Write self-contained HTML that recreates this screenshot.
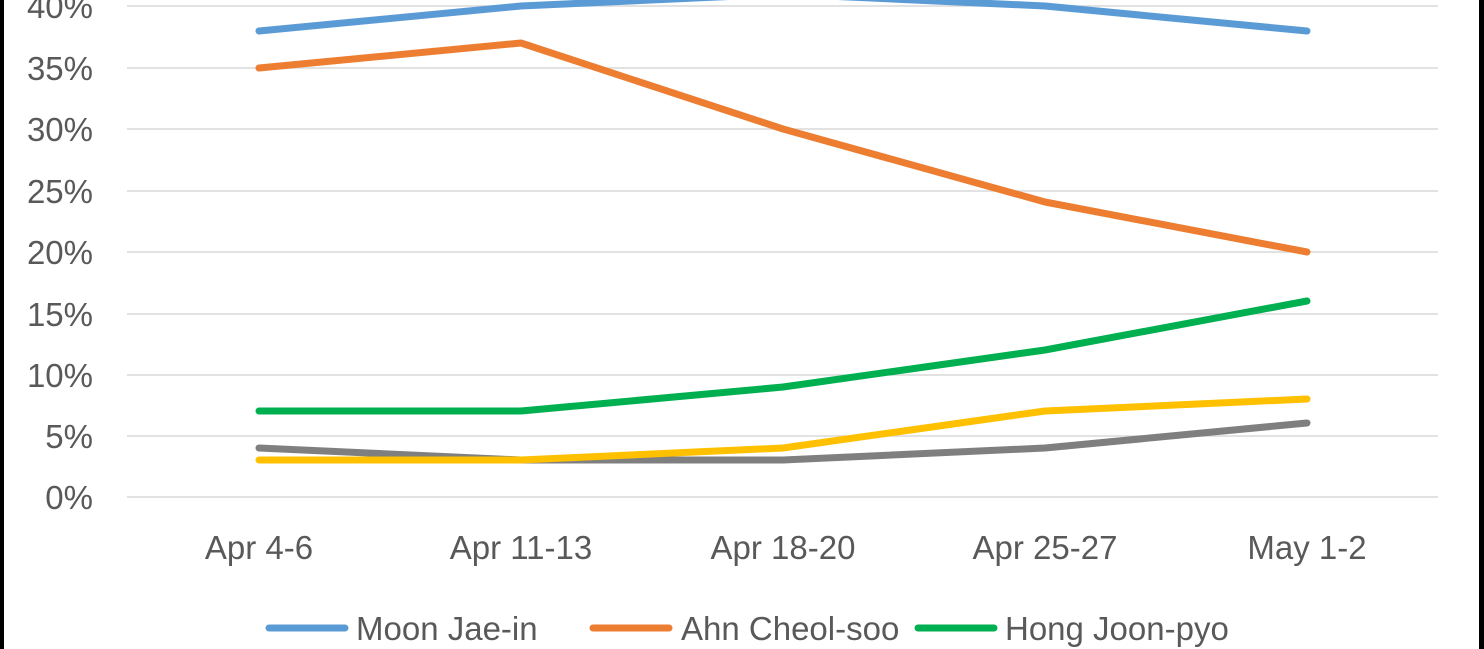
<!DOCTYPE html>
<html><head><style>
body{margin:0;background:#fff;}
svg{display:block;}
text{font-family:"Liberation Sans",sans-serif;fill:#595959;font-size:33px;}
</style></head><body>
<svg width="1484" height="649" viewBox="0 0 1484 649">
<rect x="0" y="0" width="1484" height="649" fill="#fff"/>
<rect x="0" y="0" width="4" height="649" fill="#000"/>
<rect x="1479" y="0" width="5" height="649" fill="#000"/>
<g stroke="#d9d9d9" stroke-width="1.5">
<line x1="127" x2="1438" y1="6" y2="6"/>
<line x1="127" x2="1438" y1="68" y2="68"/>
<line x1="127" x2="1438" y1="129" y2="129"/>
<line x1="127" x2="1438" y1="191" y2="191"/>
<line x1="127" x2="1438" y1="252" y2="252"/>
<line x1="127" x2="1438" y1="314" y2="314"/>
<line x1="127" x2="1438" y1="375" y2="375"/>
<line x1="127" x2="1438" y1="436" y2="436"/>
<line x1="127" x2="1438" y1="497" y2="497"/>
</g>
<g text-anchor="end">
<text x="93" y="18">40%</text>
<text x="93" y="80">35%</text>
<text x="93" y="141">30%</text>
<text x="93" y="203">25%</text>
<text x="93" y="264">20%</text>
<text x="93" y="326">15%</text>
<text x="93" y="387">10%</text>
<text x="93" y="448">5%</text>
<text x="93" y="509">0%</text>
</g>
<g text-anchor="middle">
<text x="259" y="559">Apr 4-6</text>
<text x="521" y="559">Apr 11-13</text>
<text x="783" y="559">Apr 18-20</text>
<text x="1045" y="559">Apr 25-27</text>
<text x="1307" y="559">May 1-2</text>
</g>
<g fill="none" stroke-width="7" stroke-linecap="round" stroke-linejoin="round">
<polyline stroke="#7f7f7f" points="259,448 521,460 783,460 1045,448 1307,423"/>
<polyline stroke="#ffc000" points="259,460 521,460 783,448 1045,411 1307,399"/>
<polyline stroke="#00b050" points="259,411 521,411 783,387 1045,350 1307,301"/>
<polyline stroke="#ed7d31" points="259,68 521,43 783,129 1045,202 1307,252"/>
<polyline stroke="#5b9bd5" points="259,31 521,6 783,-6 1045,6 1307,31"/>
</g>
<g stroke-width="7" stroke-linecap="round">
<line x1="269" x2="345" y1="628" y2="628" stroke="#5b9bd5"/>
<line x1="593" x2="669" y1="628" y2="628" stroke="#ed7d31"/>
<line x1="918" x2="994" y1="628" y2="628" stroke="#00b050"/>
</g>
<text x="356" y="640">Moon Jae-in</text>
<text x="681" y="640">Ahn Cheol-soo</text>
<text x="1005" y="640">Hong Joon-pyo</text>
</svg>
</body></html>
